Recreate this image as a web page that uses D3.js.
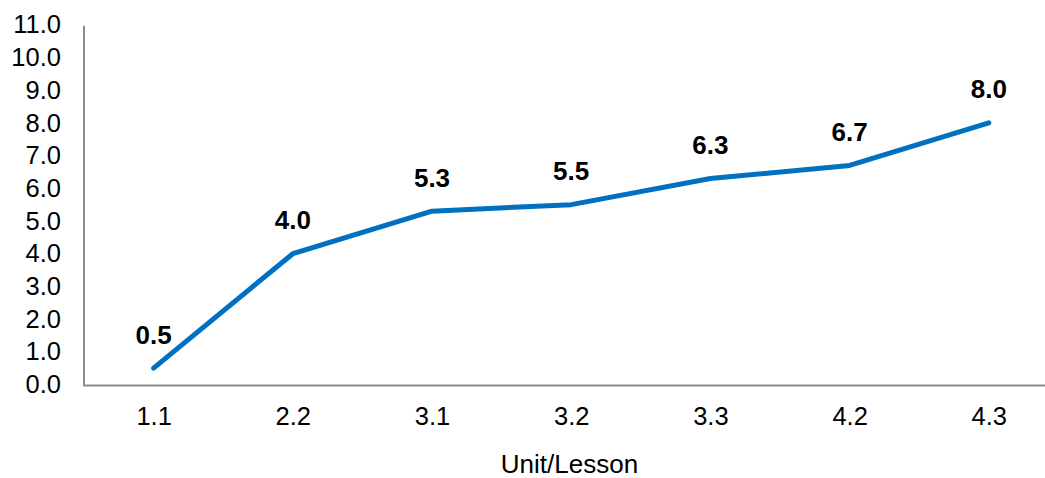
<!DOCTYPE html>
<html>
<head>
<meta charset="utf-8">
<script src="https://cdn.jsdelivr.net/npm/d3@7"></script>
<style>
  html, body { margin: 0; padding: 0; background: #fff; }
  svg { display: block; }
  text { font-family: "Liberation Sans", Arial, sans-serif; }
</style>
</head>
<body>
<svg id="chart" width="1045" height="478"></svg>
<script>
const categories = ["1.1", "2.2", "3.1", "3.2", "3.3", "4.2", "4.3"];
const values = [0.5, 4.0, 5.3, 5.5, 6.3, 6.7, 8.0];
const yTicks = [0, 1, 2, 3, 4, 5, 6, 7, 8, 9, 10, 11];
const xTitle = "Unit/Lesson";

const svg = d3.select("#chart");
const W = 1045;
const mLeft = 84, mTop = 24.8, mBottom = 384.5;
const step = 139.2;

const x = d3.scalePoint()
  .domain(categories)
  .range([mLeft, mLeft + step * categories.length])
  .padding(0.5);

const y = d3.scaleLinear().domain([0, 11]).range([mBottom, mTop]);

// Y axis
const yAxis = d3.axisLeft(y)
  .tickValues(yTicks)
  .tickFormat(d3.format(".1f"))
  .tickSize(0)
  .tickPadding(23);
const gy = svg.append("g").attr("transform", `translate(${mLeft},0)`).call(yAxis);
gy.select(".domain").remove();
gy.selectAll("text")
  .attr("font-size", 25.5)
  .attr("fill", "#000")
  .attr("font-family", "Liberation Sans, Arial, sans-serif");

// X axis
const xAxis = d3.axisBottom(x).tickSize(0).tickPadding(22);
const gx = svg.append("g").attr("transform", `translate(0,${mBottom})`).call(xAxis);
gx.select(".domain").remove();
gx.selectAll("text")
  .attr("font-size", 25.5)
  .attr("fill", "#000")
  .attr("font-family", "Liberation Sans, Arial, sans-serif");

// axis lines
svg.append("line")
  .attr("x1", mLeft).attr("x2", mLeft)
  .attr("y1", y(11) + 1).attr("y2", mBottom + 1)
  .attr("stroke", "#8c8c8c").attr("stroke-width", 2);
svg.append("line")
  .attr("x1", mLeft - 1).attr("x2", W)
  .attr("y1", mBottom + 1).attr("y2", mBottom + 1)
  .attr("stroke", "#8c8c8c").attr("stroke-width", 2);

// line
const line = d3.line()
  .x((d, i) => x(categories[i]))
  .y(d => y(d));
svg.append("path")
  .datum(values)
  .attr("d", line)
  .attr("fill", "none")
  .attr("stroke", "#0070c0")
  .attr("stroke-width", 5)
  .attr("stroke-linecap", "round")
  .attr("stroke-linejoin", "round");

// data labels
svg.append("g").selectAll("text")
  .data(values)
  .join("text")
  .attr("x", (d, i) => x(categories[i]))
  .attr("y", d => y(d) - 24.5)
  .attr("text-anchor", "middle")
  .attr("font-size", 26)
  .attr("font-weight", "bold")
  .attr("fill", "#000")
  .text(d => d.toFixed(1));

// x title
svg.append("text")
  .attr("x", 569.5)
  .attr("y", 473)
  .attr("text-anchor", "middle")
  .attr("font-size", 26)
  .attr("fill", "#000")
  .text(xTitle);
</script>
</body>
</html>
